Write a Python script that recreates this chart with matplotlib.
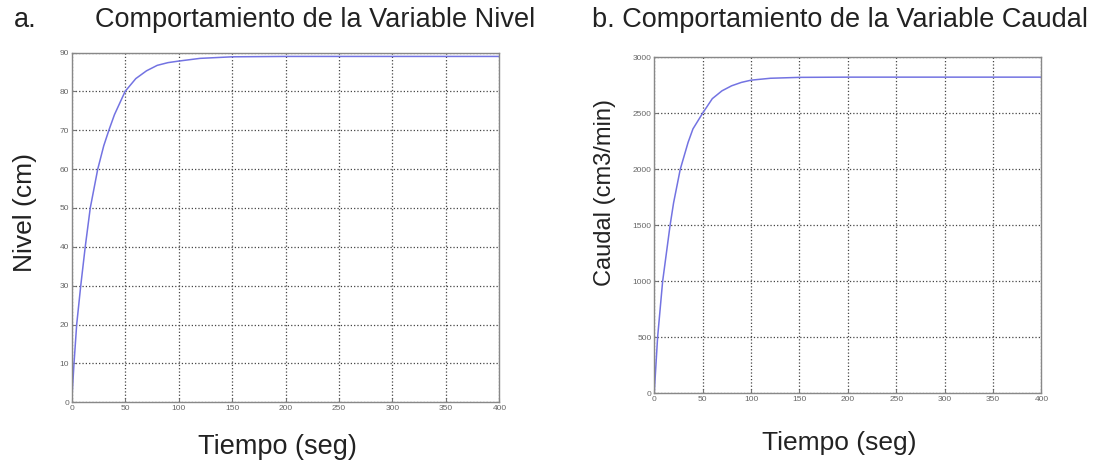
import numpy as np
import matplotlib
matplotlib.use("Agg")
import matplotlib.pyplot as plt

plt.rcParams['font.family'] = ['Liberation Sans', 'DejaVu Sans']

# a. Nivel (cm) vs Tiempo (seg)
t_nivel = [0, 2.2, 4.7, 8.5, 12.7, 17.4, 24.4, 30, 34.8, 40, 50, 60, 70, 80, 90, 100, 120, 150, 200, 400]
nivel = [0, 10, 20, 30, 40, 50, 60, 66, 70, 74, 80, 83.3, 85.3, 86.7, 87.4, 87.8, 88.5, 88.9, 89, 89]

# b. Caudal (cm3/min) vs Tiempo (seg)
t_caudal = [0, 3.5, 8.7, 16.4, 20, 26.9, 35, 40, 50, 60, 70, 80, 90, 100, 120, 150, 200, 400]
caudal = [0, 500, 1000, 1500, 1700, 2000, 2240, 2360, 2500, 2630, 2700, 2745, 2775, 2795, 2812, 2820, 2822, 2822]

xticks = [0, 50, 100, 150, 200, 250, 300, 350, 400]
yticks_nivel = [0, 10, 20, 30, 40, 50, 60, 70, 80, 90]
yticks_caudal = [0, 500, 1000, 1500, 2000, 2500, 3000]

fig = plt.figure(figsize=(10.94, 4.65), dpi=100)
ax1 = fig.add_axes([0.0655, 0.135, 0.391, 0.752])
ax2 = fig.add_axes([0.598, 0.154, 0.354, 0.723])

line_color = '#7373e2'
for ax, t, v, yt in [(ax1, t_nivel, nivel, yticks_nivel), (ax2, t_caudal, caudal, yticks_caudal)]:
    ax.plot(t, v, color=line_color, lw=1.1)
    ax.set_xlim(0, 400)
    ax.set_ylim(yt[0], yt[-1])
    ax.set_xticks(xticks)
    ax.set_yticks(yt)
    ax.grid(True, ls=':', color='#444444', lw=0.9)
    ax.tick_params(direction='in', length=3, labelsize=6, colors='#777777', labelcolor='#666666', pad=2)
    for s in ax.spines.values():
        s.set_color('#888888')
        s.set_linewidth(1.0)

txt = '#222222'
# axis labels placed like the original image
fig.text(0.0229, 0.544, 'Nivel (cm)', fontsize=19, color=txt, rotation=90, ha='center', va='center')
fig.text(0.254, 0.0387, 'Tiempo (seg)', fontsize=19.5, color=txt, ha='center', va='center')
fig.text(0.553, 0.585, 'Caudal (cm3/min)', fontsize=17, color=txt, rotation=90, ha='center', va='center')
fig.text(0.767, 0.047, 'Tiempo (seg)', fontsize=19, color=txt, ha='center', va='center')

# titles
fig.text(0.013, 0.957, 'a.', fontsize=19.5, color=txt, va='center')
fig.text(0.087, 0.957, 'Comportamiento de la Variable Nivel', fontsize=19.5, color=txt, va='center')
fig.text(0.541, 0.957, 'b. Comportamiento de la Variable Caudal', fontsize=19.5, color=txt, va='center')

fig.savefig('out.png', dpi=100)
